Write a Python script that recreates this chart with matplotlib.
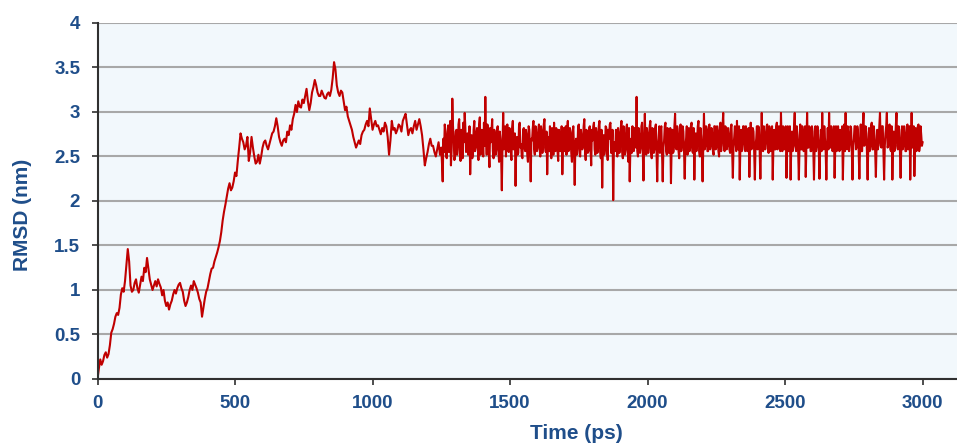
import numpy as np
import matplotlib.pyplot as plt

# RMSD trace
# equilibration part, one value every 5 ps from 0 to 1245 ps
t_early = np.arange(0, 1250, 5)
rmsd_early = [
    0.00, 0.12, 0.22, 0.16, 0.20, 0.27, 0.30, 0.24, 0.28, 0.38,
    0.52, 0.56, 0.62, 0.70, 0.74, 0.72, 0.80, 0.95, 1.02, 0.98,
    1.10, 1.28, 1.46, 1.32, 1.05, 0.98, 1.00, 1.08, 1.12, 1.02,
    0.97, 1.06, 1.15, 1.10, 1.25, 1.20, 1.36, 1.24, 1.12, 1.06,
    1.00, 1.05, 1.10, 1.04, 1.12, 1.07, 1.03, 0.94, 1.00, 0.88,
    0.82, 0.86, 0.78, 0.84, 0.88, 0.95, 1.00, 0.96, 1.02, 1.06,
    1.08, 1.02, 0.98, 0.88, 0.82, 0.86, 0.92, 1.00, 1.05, 1.00,
    1.10, 1.06, 1.02, 0.97, 0.90, 0.86, 0.70, 0.80, 0.90, 0.98,
    1.02, 1.10, 1.18, 1.24, 1.25, 1.32, 1.37, 1.42, 1.48, 1.55,
    1.65, 1.78, 1.88, 1.96, 2.05, 2.14, 2.20, 2.12, 2.15, 2.22,
    2.32, 2.28, 2.45, 2.60, 2.76, 2.70, 2.66, 2.58, 2.62, 2.72,
    2.45, 2.55, 2.72, 2.60, 2.50, 2.42, 2.44, 2.52, 2.42, 2.50,
    2.60, 2.66, 2.68, 2.62, 2.58, 2.64, 2.70, 2.76, 2.78, 2.84,
    2.93, 2.84, 2.72, 2.66, 2.62, 2.68, 2.70, 2.66, 2.78, 2.74,
    2.85, 2.80, 2.92, 2.98, 3.08, 3.00, 3.12, 3.06, 3.05, 3.14,
    3.10, 3.18, 3.26, 3.12, 3.02, 3.10, 3.22, 3.28, 3.36, 3.30,
    3.22, 3.18, 3.18, 3.24, 3.20, 3.16, 3.15, 3.20, 3.22, 3.18,
    3.25, 3.38, 3.56, 3.48, 3.30, 3.22, 3.18, 3.24, 3.22, 3.12,
    3.02, 3.06, 2.95, 2.90, 2.85, 2.80, 2.72, 2.66, 2.60, 2.64,
    2.68, 2.64, 2.74, 2.78, 2.80, 2.86, 2.90, 2.84, 3.04, 2.92,
    2.80, 2.86, 2.90, 2.84, 2.85, 2.80, 2.75, 2.82, 2.78, 2.88,
    2.84, 2.72, 2.52, 2.68, 2.90, 2.80, 2.82, 2.76, 2.80, 2.86,
    2.84, 2.78, 2.90, 2.94, 2.98, 2.86, 2.74, 2.80, 2.82, 2.76,
    2.84, 2.90, 2.80, 2.86, 2.92, 2.84, 2.74, 2.58, 2.40, 2.48,
    2.55, 2.64, 2.70, 2.62, 2.62, 2.55, 2.50, 2.58, 2.66, 2.52,
]

# production part, one value every 5 ps from 1250 to 3000 ps
t_late = np.arange(1250, 3001, 5)
rmsd_late = [
    2.60, 2.22, 2.55, 2.78, 2.48, 2.85, 2.62, 2.40, 3.15, 2.70,
    2.50, 2.80, 2.58, 2.92, 2.45, 2.72, 2.88, 2.99, 2.55, 2.76,
    2.66, 2.30, 2.74, 2.52, 2.90, 2.60, 2.82, 2.46, 2.94, 2.58,
    2.70, 2.88, 3.17, 2.52, 2.80, 2.38, 2.66, 2.92, 2.48, 2.75,
    2.58, 2.84, 2.44, 2.70, 2.12, 2.99, 2.62, 2.50, 2.86, 2.55,
    2.78, 2.46, 2.90, 2.60, 2.17, 2.72, 2.54, 2.88, 2.64, 2.48,
    2.82, 2.56, 2.74, 2.44, 2.80, 2.22, 2.68, 2.90, 2.52, 2.76,
    2.60, 2.86, 2.50, 2.78, 2.64, 2.92, 2.55, 2.30, 2.72, 2.84,
    2.48, 2.70, 2.88, 2.56, 2.80, 2.45, 2.74, 2.62, 2.30, 2.82,
    2.66, 2.52, 2.90, 2.58, 2.76, 2.44, 2.84, 2.18, 2.70, 2.60,
    2.86, 2.50, 2.72, 2.62, 2.92, 2.46, 2.78, 2.56, 2.84, 2.40,
    2.68, 2.88, 2.52, 2.76, 2.60, 2.90, 2.48, 2.15, 2.74, 2.58,
    2.82, 2.46, 2.70, 2.88, 2.55, 2.01, 2.66, 2.80, 2.50, 2.76,
    2.62, 2.90, 2.48, 2.74, 2.58, 2.86, 2.44, 2.22, 2.70, 2.84,
    2.56, 2.78, 3.17, 2.50, 2.72, 2.60, 2.88, 2.23, 2.98, 2.52,
    2.74, 2.62, 2.90, 2.48, 2.80, 2.58, 2.86, 2.22, 2.70, 2.54,
    2.84, 2.22, 2.68, 2.88, 2.52, 2.76, 2.62, 2.20, 2.80, 2.56,
    2.98, 2.58, 2.74, 2.48, 2.86, 2.64, 2.78, 2.25, 2.70, 2.52,
    2.82, 2.60, 2.88, 2.54, 2.24, 2.76, 2.66, 2.90, 2.50, 2.72,
    2.22, 2.98, 2.62, 2.80, 2.56, 2.86, 2.64, 2.76, 2.52, 2.84,
    2.60, 2.78, 2.50, 2.88, 2.66, 2.99, 2.56, 2.82, 2.62, 2.74,
    2.54, 2.86, 2.26, 2.72, 2.64, 2.90, 2.58, 2.24, 2.80, 2.66,
    2.84, 2.56, 2.76, 2.62, 2.27, 2.88, 2.60, 2.78, 2.24, 2.70,
    2.58, 2.82, 2.25, 2.99, 2.56, 2.74, 2.66, 2.86, 2.54, 2.78,
    2.64, 2.24, 2.80, 2.58, 2.88, 2.62, 2.72, 2.99, 2.56, 2.82,
    2.68, 2.26, 2.84, 2.60, 2.24, 2.78, 2.62, 2.99, 2.56, 2.74,
    2.24, 2.86, 2.58, 2.76, 2.64, 2.27, 2.99, 2.60, 2.82, 2.56,
    2.78, 2.24, 2.84, 2.62, 2.74, 2.25, 2.80, 2.99, 2.58, 2.70,
    2.24, 2.82, 2.99, 2.60, 2.76, 2.66, 2.26, 2.84, 2.58, 2.72,
    2.80, 2.62, 2.24, 2.86, 2.99, 2.58, 2.74, 2.66, 2.82, 2.24,
    2.70, 2.84, 2.60, 2.78, 2.25, 2.86, 2.56, 2.99, 2.64, 2.76,
    2.24, 2.82, 2.62, 2.88, 2.58, 2.74, 2.27, 2.80, 2.66, 2.99,
    2.60, 2.84, 2.24, 2.76, 2.99, 2.62, 2.86, 2.56, 2.24, 2.78,
    2.66, 2.99, 2.58, 2.80, 2.26, 2.84, 2.62, 2.74, 2.56, 2.86,
    2.70, 2.24, 2.99, 2.64, 2.28, 2.82, 2.58, 2.86, 2.62, 2.74,
    2.66,
]

# in-between frames of the production part (1252.5 ... 2997.5 ps)
t_late_mid = np.arange(1252.5, 3000, 5)
rmsd_late_mid = [
    2.42, 2.70, 2.86, 2.50, 2.74, 2.55, 2.90, 2.58, 2.84, 2.46,
    2.78, 2.52, 2.86, 2.62, 2.80, 2.48, 2.66, 2.82, 2.60, 2.52,
    2.84, 2.62, 2.48, 2.80, 2.56, 2.76, 2.60, 2.86, 2.52, 2.80,
    2.50, 2.62, 2.74, 2.86, 2.58, 2.82, 2.78, 2.56, 2.80, 2.52,
    2.80, 2.56, 2.78, 2.50, 2.64, 2.58, 2.84, 2.72, 2.60, 2.82,
    2.56, 2.82, 2.58, 2.76, 2.62, 2.52, 2.84, 2.60, 2.50, 2.80,
    2.60, 2.80, 2.52, 2.84, 2.58, 2.70, 2.82, 2.58, 2.84, 2.56,
    2.80, 2.58, 2.84, 2.54, 2.86, 2.60, 2.78, 2.62, 2.56, 2.60,
    2.82, 2.52, 2.62, 2.82, 2.56, 2.80, 2.56, 2.84, 2.62, 2.56,
    2.84, 2.80, 2.56, 2.82, 2.54, 2.78, 2.58, 2.64, 2.52, 2.84,
    2.54, 2.80, 2.58, 2.84, 2.56, 2.80, 2.54, 2.82, 2.58, 2.80,
    2.84, 2.58, 2.82, 2.54, 2.84, 2.56, 2.80, 2.62, 2.52, 2.84,
    2.56, 2.80, 2.86, 2.54, 2.80, 2.60, 2.56, 2.62, 2.82, 2.54,
    2.82, 2.56, 2.84, 2.52, 2.82, 2.56, 2.82, 2.60, 2.54, 2.58,
    2.82, 2.60, 2.56, 2.82, 2.54, 2.84, 2.56, 2.62, 2.60, 2.82,
    2.54, 2.84, 2.56, 2.82, 2.54, 2.82, 2.56, 2.62, 2.84, 2.80,
    2.54, 2.60, 2.84, 2.56, 2.82, 2.54, 2.82, 2.62, 2.54, 2.84,
    2.60, 2.84, 2.56, 2.82, 2.56, 2.84, 2.56, 2.62, 2.84, 2.80,
    2.56, 2.84, 2.56, 2.82, 2.62, 2.56, 2.84, 2.56, 2.82, 2.54,
    2.62, 2.58, 2.84, 2.56, 2.84, 2.58, 2.82, 2.56, 2.84, 2.58,
    2.84, 2.56, 2.84, 2.56, 2.84, 2.62, 2.84, 2.58, 2.82, 2.58,
    2.82, 2.56, 2.62, 2.84, 2.56, 2.60, 2.84, 2.62, 2.56, 2.84,
    2.58, 2.84, 2.56, 2.82, 2.62, 2.58, 2.82, 2.56, 2.62, 2.84,
    2.84, 2.56, 2.62, 2.60, 2.84, 2.58, 2.84, 2.58, 2.84, 2.56,
    2.84, 2.62, 2.58, 2.84, 2.58, 2.84, 2.56, 2.62, 2.84, 2.58,
    2.84, 2.62, 2.56, 2.84, 2.62, 2.56, 2.84, 2.62, 2.84, 2.56,
    2.62, 2.58, 2.84, 2.56, 2.84, 2.62, 2.60, 2.84, 2.56, 2.84,
    2.58, 2.62, 2.56, 2.84, 2.56, 2.62, 2.56, 2.60, 2.84, 2.56,
    2.62, 2.58, 2.62, 2.84, 2.56, 2.84, 2.62, 2.56, 2.84, 2.56,
    2.58, 2.84, 2.62, 2.56, 2.60, 2.84, 2.56, 2.84, 2.56, 2.62,
    2.84, 2.58, 2.84, 2.56, 2.62, 2.56, 2.84, 2.62, 2.84, 2.56,
    2.62, 2.56, 2.84, 2.58, 2.84, 2.56, 2.62, 2.58, 2.84, 2.62,
    2.84, 2.56, 2.62, 2.84, 2.60, 2.84, 2.58, 2.84, 2.62, 2.56,
    2.84, 2.62, 2.84, 2.56, 2.62, 2.58, 2.84, 2.56, 2.84, 2.58,
    2.84, 2.62, 2.60, 2.84, 2.62, 2.56, 2.84, 2.56, 2.84, 2.62,
]

x_ticks = [0, 500, 1000, 1500, 2000, 2500, 3000]
y_ticks = [0, 0.5, 1, 1.5, 2, 2.5, 3, 3.5, 4]
y_tick_labels = ['0', '0.5', '1', '1.5', '2', '2.5', '3', '3.5', '4']

time = np.concatenate([t_early, t_late, t_late_mid])
rmsd = np.concatenate([rmsd_early, rmsd_late, rmsd_late_mid])
order = np.argsort(time)
time, rmsd = time[order], rmsd[order]

text_blue = '#1F4E8A'
plt.rcParams['font.family'] = ['Liberation Sans', 'DejaVu Sans']
# keep every zigzag of the noisy trace
plt.rcParams['path.simplify'] = False

fig = plt.figure(figsize=(9.57, 4.44), dpi=100)
ax = fig.add_axes([0.1019, 0.1464, 0.8981, 0.8018])
ax.set_facecolor('#F2F8FC')

ax.plot(time, rmsd, color='#C00000', linewidth=1.5, zorder=3)

ax.set_xlim(0, 3125)
ax.set_ylim(0, 4)
ax.set_xticks(x_ticks)
ax.set_yticks(y_ticks)
ax.set_yticklabels(y_tick_labels)

ax.grid(axis='y', color='#A8A8A8', linewidth=1.5, zorder=1)
ax.set_axisbelow(True)

for side in ['top', 'right']:
    ax.spines[side].set_visible(False)
for side in ['left', 'bottom']:
    ax.spines[side].set_color('#303030')
    ax.spines[side].set_linewidth(1.5)
    ax.spines[side].set_zorder(4)

ax.tick_params(axis='both', direction='out', length=4.5, width=1.2, color='#303030',
               labelcolor=text_blue)
ax.tick_params(axis='x', labelsize=13.5, pad=7)
ax.tick_params(axis='y', labelsize=13.5, pad=8)
for lbl in ax.get_xticklabels() + ax.get_yticklabels():
    lbl.set_fontweight('bold')

# axis titles placed where they sit in the reference
fig.text(23 / 957, 1 - 215 / 444, 'RMSD (nm)', rotation=90, ha='center', va='center',
         fontsize=15, fontweight='bold', color=text_blue)
fig.text(576 / 957, 1 - 433 / 444, 'Time (ps)', ha='center', va='center',
         fontsize=15, fontweight='bold', color=text_blue)

fig.savefig('out.png', dpi=100)
